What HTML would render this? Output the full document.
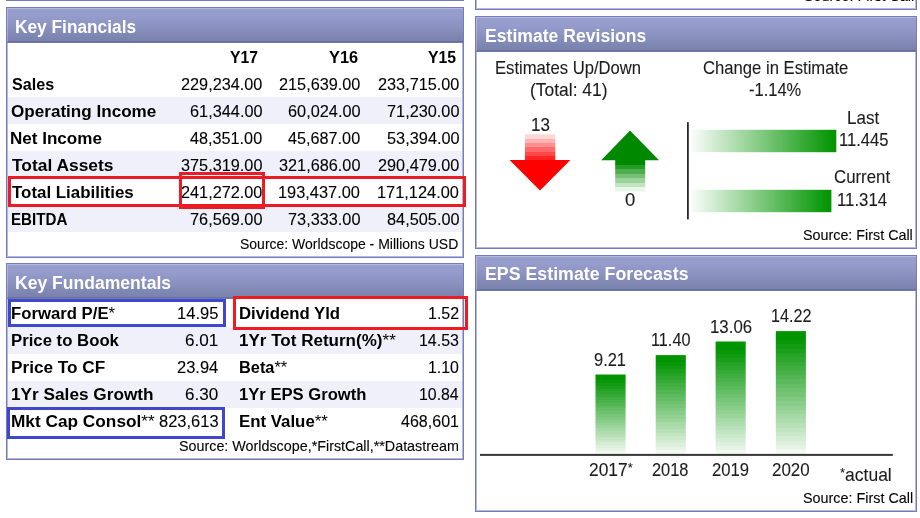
<!DOCTYPE html><html lang="en"><head><meta charset="utf-8"><title>Key Financials</title><style>
html,body{margin:0;padding:0;background:#fff}
body{width:920px;height:518px;position:relative;overflow:hidden;font-family:"Liberation Sans",Arial,sans-serif;color:#000}
.panel{position:absolute;box-sizing:border-box;border:1px solid #747cbf;background:#fff;box-shadow:inset 0 0 0 1px #b4b8de}
.hd{position:absolute;left:0;top:0;right:0;height:34px;border-bottom:1px solid #737baa;background:linear-gradient(#999fcd 0%,#959bca 25%,#8b92c0 55%,#7d85b1 85%,#7981ac 100%);box-shadow:inset 1px 1px 0 rgba(255,255,255,.28), inset 0 -1px 0 rgba(90,98,150,.55)}
.sh{position:absolute;left:1px;right:1px;height:27px;background:#f0f0fa}
.t{position:absolute;white-space:nowrap;line-height:20px;transform-origin:0 50%;margin:0;font-weight:normal}
.b{font-weight:bold}
.as{font-weight:normal}
.a2{font-size:.74em;line-height:0;vertical-align:.3em}
.rg{-webkit-text-stroke:0.1px currentColor}
.sm{-webkit-text-stroke:0.1px currentColor}
.box{position:absolute;box-sizing:border-box;border:3px solid;pointer-events:none}
svg{position:absolute;left:0;top:0;overflow:visible}
</style></head><body>
<div class="rm" style="position:absolute;left:6px;top:0;width:458px;height:1px;background:#747cbf"></div>
<div class="panel rm" style="left:475px;top:-40px;width:442px;height:50px"><span class="t sm" style="left:328.4px;top:25px;font-size:13.9px;transform:scaleX(1.035)">Source: First Call</span></div>
<div class="panel" style="left:6px;top:7px;width:458px;height:251px"><div class="hd"></div>
<div class="sh" style="top:89px"></div>
<div class="sh" style="top:143px"></div>
<div class="sh" style="top:197px"></div>
<h2 class="t m b" style="left:7.70px;top:9px;font-size:18px;transform:scaleX(0.9604);color:#fff">Key Financials</h2>
<span class="t m b" style="left:223.31px;top:40px;font-size:15.6px;transform:scaleX(1.0077)">Y17</span>
<span class="t m b" style="left:322.25px;top:40px;font-size:15.6px;transform:scaleX(1.0510)">Y16</span>
<span class="t m b" style="left:421.29px;top:40px;font-size:15.6px;transform:scaleX(1.0107)">Y15</span>
<span class="t m b" style="left:5.29px;top:67px;font-size:16.8px;transform:scaleX(0.9624)">Sales</span>
<span class="t m rg" style="left:174.29px;top:67px;font-size:16.6px;transform:scaleX(0.9803)">229,234.00</span>
<span class="t m rg" style="left:272.01px;top:67px;font-size:16.6px;transform:scaleX(0.9803)">215,639.00</span>
<span class="t m rg" style="left:370.70px;top:67px;font-size:16.6px;transform:scaleX(0.9803)">233,715.00</span>
<span class="t m b" style="left:3.87px;top:94px;font-size:16.8px;transform:scaleX(1.0182)">Operating Income</span>
<span class="t m rg" style="left:183.13px;top:94px;font-size:16.6px;transform:scaleX(0.9831)">61,344.00</span>
<span class="t m rg" style="left:280.84px;top:94px;font-size:16.6px;transform:scaleX(0.9831)">60,024.00</span>
<span class="t m rg" style="left:379.86px;top:94px;font-size:16.6px;transform:scaleX(0.9821)">71,230.00</span>
<span class="t m b" style="left:3.10px;top:121px;font-size:16.8px;transform:scaleX(1.0158)">Net Income</span>
<span class="t m rg" style="left:183.02px;top:121px;font-size:16.6px;transform:scaleX(0.9776)">48,351.00</span>
<span class="t m rg" style="left:280.72px;top:121px;font-size:16.6px;transform:scaleX(0.9776)">45,687.00</span>
<span class="t m rg" style="left:379.59px;top:121px;font-size:16.6px;transform:scaleX(0.9844)">53,394.00</span>
<span class="t m b" style="left:5.16px;top:148px;font-size:16.8px;transform:scaleX(1.0366)">Total Assets</span>
<span class="t m rg" style="left:174.27px;top:148px;font-size:16.6px;transform:scaleX(0.9805)">375,319.00</span>
<span class="t m rg" style="left:271.99px;top:148px;font-size:16.6px;transform:scaleX(0.9805)">321,686.00</span>
<span class="t m rg" style="left:370.70px;top:148px;font-size:16.6px;transform:scaleX(0.9803)">290,479.00</span>
<span class="t m b" style="left:5.18px;top:175px;font-size:16.8px;transform:scaleX(1.0068)">Total Liabilities</span>
<span class="t m rg" style="left:174.29px;top:175px;font-size:16.6px;transform:scaleX(0.9803)">241,272.00</span>
<span class="t m rg" style="left:271.15px;top:175px;font-size:16.6px;transform:scaleX(0.9866)">193,437.00</span>
<span class="t m rg" style="left:369.70px;top:175px;font-size:16.6px;transform:scaleX(0.9866)">171,124.00</span>
<span class="t m b" style="left:3.91px;top:202px;font-size:16.8px;transform:scaleX(0.9014)">EBITDA</span>
<span class="t m rg" style="left:183.20px;top:202px;font-size:16.6px;transform:scaleX(0.9821)">76,569.00</span>
<span class="t m rg" style="left:280.92px;top:202px;font-size:16.6px;transform:scaleX(0.9821)">73,333.00</span>
<span class="t m rg" style="left:380.07px;top:202px;font-size:16.6px;transform:scaleX(0.9832)">84,505.00</span>
<span class="t m sm" style="left:233.28px;top:226px;font-size:13.9px;transform:scaleX(1.0073)">Source: Worldscope - Millions USD</span>
</div>
<div class="panel" style="left:6px;top:263px;width:458px;height:197px"><div class="hd"></div>
<div class="sh" style="top:63px"></div>
<div class="sh" style="top:117px"></div>
<h2 class="t m b" style="left:7.65px;top:9px;font-size:18px;transform:scaleX(0.9752);color:#fff">Key Fundamentals</h2>
<span class="t m b" style="left:4.34px;top:40px;font-size:16.8px;transform:scaleX(0.9962)">Forward P/E<span class="as">*</span></span>
<span class="t m rg" style="left:170.01px;top:40px;font-size:16.6px;transform:scaleX(0.9967)">14.95</span>
<span class="t m b" style="left:4.33px;top:67px;font-size:16.8px;transform:scaleX(0.9977)">Price to Book</span>
<span class="t m rg" style="left:177.96px;top:67px;font-size:16.6px;transform:scaleX(1.0324)">6.01</span>
<span class="t m b" style="left:4.24px;top:94px;font-size:16.8px;transform:scaleX(1.0240)">Price To CF</span>
<span class="t m rg" style="left:169.62px;top:94px;font-size:16.6px;transform:scaleX(0.9941)">23.94</span>
<span class="t m b" style="left:3.77px;top:121px;font-size:16.8px;transform:scaleX(1.0264)">1Yr Sales Growth</span>
<span class="t m rg" style="left:178.37px;top:121px;font-size:16.6px;transform:scaleX(1.0290)">6.30</span>
<span class="t m b" style="left:3.76px;top:148px;font-size:16.8px;transform:scaleX(1.0277)">Mkt Cap Consol<span class="as">**</span></span>
<span class="t m rg" style="left:152.35px;top:148px;font-size:16.6px;transform:scaleX(0.9935)">823,613</span>
<span class="t m b" style="left:232.04px;top:40px;font-size:16.8px;transform:scaleX(0.9975)">Dividend Yld</span>
<span class="t m rg" style="left:421.23px;top:40px;font-size:16.6px;transform:scaleX(0.9647)">1.52</span>
<span class="t m b" style="left:232.11px;top:67px;font-size:16.8px;transform:scaleX(1.0150)">1Yr Tot Return(%)<span class="as">**</span></span>
<span class="t m rg" style="left:411.67px;top:67px;font-size:16.6px;transform:scaleX(0.9615)">14.53</span>
<span class="t m b" style="left:232.13px;top:94px;font-size:16.8px;transform:scaleX(0.9739)">Beta<span class="as">**</span></span>
<span class="t m rg" style="left:421.24px;top:94px;font-size:16.6px;transform:scaleX(0.9580)">1.10</span>
<span class="t m b" style="left:232.19px;top:121px;font-size:16.8px;transform:scaleX(0.9898)">1Yr EPS Growth</span>
<span class="t m rg" style="left:411.70px;top:121px;font-size:16.6px;transform:scaleX(0.9551)">10.84</span>
<span class="t m b" style="left:232.02px;top:148px;font-size:16.8px;transform:scaleX(1.0026)">Ent Value<span class="as">**</span></span>
<span class="t m rg" style="left:393.82px;top:148px;font-size:16.6px;transform:scaleX(0.9675)">468,601</span>
<span class="t m sm" style="left:172.06px;top:172px;font-size:13.9px;transform:scaleX(1.0308)">Source: Worldscope,*FirstCall,**Datastream</span>
</div>
<div class="panel" style="left:475px;top:16px;width:442px;height:233px"><div class="hd"></div>
<svg width="440" height="231" viewBox="0 0 440 231">
<defs>
<linearGradient id="gr" x1="0" y1="0" x2="0" y2="1">
<stop offset="0.0000" stop-color="rgb(255,215,215)"/><stop offset="0.1667" stop-color="rgb(255,215,215)"/><stop offset="0.1667" stop-color="rgb(255,179,179)"/><stop offset="0.3333" stop-color="rgb(255,179,179)"/><stop offset="0.3333" stop-color="rgb(255,143,143)"/><stop offset="0.5000" stop-color="rgb(255,143,143)"/><stop offset="0.5000" stop-color="rgb(255,107,107)"/><stop offset="0.6667" stop-color="rgb(255,107,107)"/><stop offset="0.6667" stop-color="rgb(255,71,71)"/><stop offset="0.8333" stop-color="rgb(255,71,71)"/><stop offset="0.8333" stop-color="rgb(255,35,35)"/><stop offset="1.0000" stop-color="rgb(255,35,35)"/>
</linearGradient>
<linearGradient id="gg" x1="0" y1="0" x2="0" y2="1">
<stop offset="0.0000" stop-color="rgb(0,136,0)"/><stop offset="0.1429" stop-color="rgb(0,136,0)"/><stop offset="0.1429" stop-color="rgb(38,154,38)"/><stop offset="0.2857" stop-color="rgb(38,154,38)"/><stop offset="0.2857" stop-color="rgb(77,173,77)"/><stop offset="0.4286" stop-color="rgb(77,173,77)"/><stop offset="0.4286" stop-color="rgb(116,192,116)"/><stop offset="0.5714" stop-color="rgb(116,192,116)"/><stop offset="0.5714" stop-color="rgb(154,210,154)"/><stop offset="0.7143" stop-color="rgb(154,210,154)"/><stop offset="0.7143" stop-color="rgb(193,229,193)"/><stop offset="0.8571" stop-color="rgb(193,229,193)"/><stop offset="0.8571" stop-color="rgb(232,248,232)"/><stop offset="1.0000" stop-color="rgb(232,248,232)"/>
</linearGradient>
<linearGradient id="gb" x1="0" y1="0" x2="1" y2="0">
<stop offset="0" stop-color="#ffffff"/><stop offset="0.04" stop-color="#f3f9f3"/><stop offset="0.97" stop-color="#059605"/><stop offset="1" stop-color="#009400"/>
</linearGradient>
</defs>
<rect x="49.0" y="117.3" width="30.3" height="26" fill="url(#gr)"/>
<polygon points="33.6,143.0 94.4,143.0 64.0,173.4" fill="#ff0000"/>
<polygon points="125.2,143.2 183.0,143.2 154.0,113.6" fill="#008800"/>
<rect x="139.2" y="143.0" width="30" height="31.6" fill="url(#gg)"/>
<rect x="211.0" y="105.2" width="1.8" height="97.2" fill="#2a2a2a"/>
<rect x="214.0" y="112.8" width="146.3" height="22.4" fill="url(#gb)"/>
<rect x="214.0" y="172.8" width="141.4" height="22.4" fill="url(#gb)"/>
</svg>
<h2 class="t m b" style="left:8.64px;top:9px;font-size:18px;transform:scaleX(0.9778);color:#fff">Estimate Revisions</h2>
<span class="t m rg" style="left:19.19px;top:41px;font-size:18.2px;transform:scaleX(0.9147);color:#1c1c1c">Estimates Up/Down</span>
<span class="t m rg" style="left:54.45px;top:63px;font-size:18.2px;transform:scaleX(0.9591);color:#1c1c1c">(Total: 41)</span>
<span class="t m rg" style="left:227.42px;top:41px;font-size:18.2px;transform:scaleX(0.9159);color:#1c1c1c">Change in Estimate</span>
<span class="t m rg" style="left:272.86px;top:63px;font-size:18.2px;transform:scaleX(0.9060);color:#1c1c1c">-1.14%</span>
<span class="t m rg" style="left:55.48px;top:98px;font-size:18.2px;transform:scaleX(0.9393);color:#1c1c1c">13</span>
<span class="t m rg" style="left:149.36px;top:173px;font-size:18.2px;transform:scaleX(1.0150);color:#1c1c1c">0</span>
<span class="t m rg" style="left:371.05px;top:91px;font-size:18.2px;transform:scaleX(0.9358);color:#1c1c1c">Last</span>
<span class="t m rg" style="left:362.89px;top:113px;font-size:18.2px;transform:scaleX(0.9128);color:#1c1c1c">11.445</span>
<span class="t m rg" style="left:358.11px;top:150px;font-size:18.2px;transform:scaleX(0.9247);color:#1c1c1c">Current</span>
<span class="t m rg" style="left:361.45px;top:173px;font-size:18.2px;transform:scaleX(0.9235);color:#1c1c1c">11.314</span>
<span class="t m sm" style="left:326.85px;top:208px;font-size:13.9px;transform:scaleX(1.0308)">Source: First Call</span>
</div>
<div class="panel" style="left:475px;top:255px;width:442px;height:257px"><div class="hd"></div>
<svg width="440" height="255" viewBox="0 0 440 255"><defs><linearGradient id="gv" x1="0" y1="0" x2="0" y2="1"><stop offset="0.0000" stop-color="rgb(0,148,0)"/><stop offset="0.0357" stop-color="rgb(0,148,0)"/><stop offset="0.0357" stop-color="rgb(0,148,0)"/><stop offset="0.0714" stop-color="rgb(0,148,0)"/><stop offset="0.0714" stop-color="rgb(8,151,8)"/><stop offset="0.1071" stop-color="rgb(8,151,8)"/><stop offset="0.1071" stop-color="rgb(17,155,17)"/><stop offset="0.1429" stop-color="rgb(17,155,17)"/><stop offset="0.1429" stop-color="rgb(27,159,27)"/><stop offset="0.1786" stop-color="rgb(27,159,27)"/><stop offset="0.1786" stop-color="rgb(36,163,36)"/><stop offset="0.2143" stop-color="rgb(36,163,36)"/><stop offset="0.2143" stop-color="rgb(45,166,45)"/><stop offset="0.2500" stop-color="rgb(45,166,45)"/><stop offset="0.2500" stop-color="rgb(54,170,54)"/><stop offset="0.2857" stop-color="rgb(54,170,54)"/><stop offset="0.2857" stop-color="rgb(64,174,64)"/><stop offset="0.3214" stop-color="rgb(64,174,64)"/><stop offset="0.3214" stop-color="rgb(73,178,73)"/><stop offset="0.3571" stop-color="rgb(73,178,73)"/><stop offset="0.3571" stop-color="rgb(82,182,82)"/><stop offset="0.3929" stop-color="rgb(82,182,82)"/><stop offset="0.3929" stop-color="rgb(91,186,91)"/><stop offset="0.4286" stop-color="rgb(91,186,91)"/><stop offset="0.4286" stop-color="rgb(101,190,101)"/><stop offset="0.4643" stop-color="rgb(101,190,101)"/><stop offset="0.4643" stop-color="rgb(110,193,110)"/><stop offset="0.5000" stop-color="rgb(110,193,110)"/><stop offset="0.5000" stop-color="rgb(119,197,119)"/><stop offset="0.5357" stop-color="rgb(119,197,119)"/><stop offset="0.5357" stop-color="rgb(128,201,128)"/><stop offset="0.5714" stop-color="rgb(128,201,128)"/><stop offset="0.5714" stop-color="rgb(138,205,138)"/><stop offset="0.6071" stop-color="rgb(138,205,138)"/><stop offset="0.6071" stop-color="rgb(147,209,147)"/><stop offset="0.6429" stop-color="rgb(147,209,147)"/><stop offset="0.6429" stop-color="rgb(156,213,156)"/><stop offset="0.6786" stop-color="rgb(156,213,156)"/><stop offset="0.6786" stop-color="rgb(165,217,165)"/><stop offset="0.7143" stop-color="rgb(165,217,165)"/><stop offset="0.7143" stop-color="rgb(175,220,175)"/><stop offset="0.7500" stop-color="rgb(175,220,175)"/><stop offset="0.7500" stop-color="rgb(184,224,184)"/><stop offset="0.7857" stop-color="rgb(184,224,184)"/><stop offset="0.7857" stop-color="rgb(193,228,193)"/><stop offset="0.8214" stop-color="rgb(193,228,193)"/><stop offset="0.8214" stop-color="rgb(202,232,202)"/><stop offset="0.8571" stop-color="rgb(202,232,202)"/><stop offset="0.8571" stop-color="rgb(212,236,212)"/><stop offset="0.8929" stop-color="rgb(212,236,212)"/><stop offset="0.8929" stop-color="rgb(221,240,221)"/><stop offset="0.9286" stop-color="rgb(221,240,221)"/><stop offset="0.9286" stop-color="rgb(230,244,230)"/><stop offset="0.9643" stop-color="rgb(230,244,230)"/><stop offset="0.9643" stop-color="rgb(240,248,240)"/><stop offset="1.0000" stop-color="rgb(240,248,240)"/></linearGradient></defs><rect x="119.5" y="118.5" width="30.1" height="79.3" fill="url(#gv)"/><rect x="179.7" y="99.1" width="30.1" height="98.7" fill="url(#gv)"/><rect x="239.6" y="85.5" width="30.1" height="112.3" fill="url(#gv)"/><rect x="299.8" y="75.1" width="30.1" height="122.7" fill="url(#gv)"/><rect x="4.0" y="197.9" width="412.8" height="2" fill="#383838"/></svg>
<h2 class="t m b" style="left:8.60px;top:8px;font-size:18px;transform:scaleX(0.9877);color:#fff">EPS Estimate Forecasts</h2>
<span class="t m rg" style="left:118.25px;top:94px;font-size:18.2px;transform:scaleX(0.9032);color:#1c1c1c">9.21</span>
<span class="t m rg" style="left:174.66px;top:74px;font-size:18.2px;transform:scaleX(0.8933);color:#1c1c1c">11.40</span>
<span class="t m rg" style="left:233.93px;top:61px;font-size:18.2px;transform:scaleX(0.9248);color:#1c1c1c">13.06</span>
<span class="t m rg" style="left:294.68px;top:50px;font-size:18.2px;transform:scaleX(0.8901);color:#1c1c1c">14.22</span>
<span class="t m rg" style="left:112.64px;top:204px;font-size:18.2px;transform:scaleX(0.9549);color:#1c1c1c">2017<span class="a2">*</span></span>
<span class="t m rg" style="left:176.13px;top:204px;font-size:18.2px;transform:scaleX(0.9010);color:#1c1c1c">2018</span>
<span class="t m rg" style="left:236.26px;top:204px;font-size:18.2px;transform:scaleX(0.9146);color:#1c1c1c">2019</span>
<span class="t m rg" style="left:295.54px;top:204px;font-size:18.2px;transform:scaleX(0.9302);color:#1c1c1c">2020</span>
<span class="t m rg" style="left:363.94px;top:209px;font-size:18.2px;transform:scaleX(0.9623);color:#1c1c1c"><span class="a2">*</span>actual</span>
<span class="t m sm" style="left:326.53px;top:232px;font-size:13.9px;transform:scaleX(1.0344)">Source: First Call</span>
</div>
<div class="box" style="left:8px;top:176px;width:458px;height:31px;border-color:#ed1c24"></div>
<div class="box" style="left:179px;top:172px;width:86px;height:37px;border-color:#ed1c24"></div>
<div class="box" style="left:8px;top:299px;width:218px;height:28px;border-color:#3f48cc"></div>
<div class="box" style="left:7px;top:407px;width:218px;height:32px;border-color:#3f48cc"></div>
<div class="box" style="left:233px;top:296px;width:235px;height:34px;border-color:#ed1c24"></div>
</body></html>
